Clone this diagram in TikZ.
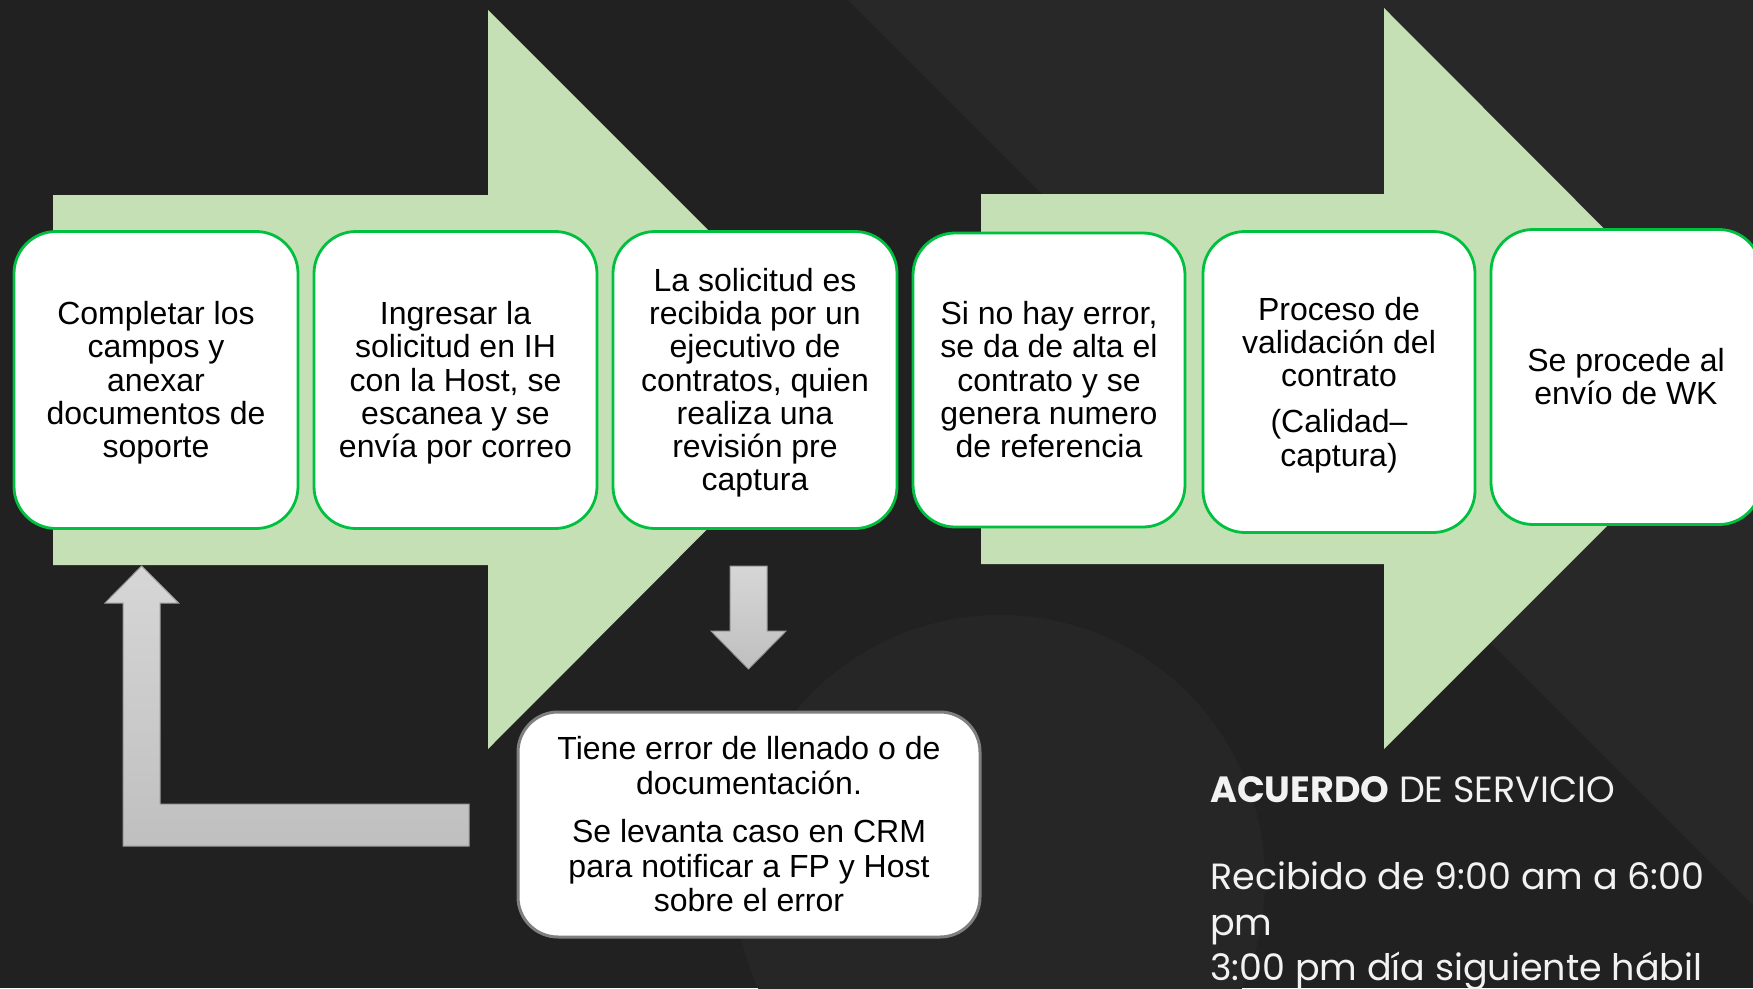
\documentclass[tikz,border=0pt]{standalone}
\usepackage{fontspec}
\setmainfont{Liberation Sans}
\newfontfamily\gothicfont{Poppins}
\usetikzlibrary{positioning}
\definecolor{bgdark}{HTML}{212121}
\definecolor{bglight}{HTML}{282828}
\definecolor{bgcircle}{HTML}{262626}
\definecolor{arrowgreen}{HTML}{C5E0B4}
\definecolor{boxgreen}{HTML}{00C040}
\definecolor{errgray}{HTML}{7F7F7F}
\definecolor{arrowedge}{HTML}{9A9A9A}
\definecolor{infowhite}{HTML}{F2F2F2}
% line box struts, so the text is centred the way the slide centres it
\newcommand{\boxlines}[1]{\rule{0pt}{29pt}#1\rule[-6.8pt]{0pt}{0pt}}

\begin{document}
\begin{tikzpicture}[x=1pt, y=-1pt,
    boxtext/.style={fill=white, align=center, inner sep=0pt},
    stepbox/.style={boxtext, draw=boxgreen, line width=2.8pt, rounded corners=42pt,
      font=\fontsize{32}{33.2}\selectfont},
    errbox/.style={boxtext, draw=errgray, line width=3pt, rounded corners=40pt,
      font=\fontsize{32}{34.5}\selectfont},
    bigarrow/.style={fill=arrowgreen},
    grayarrow/.style={draw=arrowedge, line width=1pt, top color=gray!32, bottom color=gray!50},
    infotext/.style={text=infowhite, anchor=base west, inner sep=0pt,
      font=\gothicfont\fontsize{36.5}{45}\selectfont}]

      % Background
      \useasboundingbox (0,0) rectangle (1753,988);
      \fill[bgdark] (0,0) rectangle (1753,988);
      \fill[bglight] (848,0) -- (1753,0) -- (1753,905) -- cycle;
      \fill[bgcircle] (1000,880) circle (265pt);

      % Big arrows behind the steps
      \fill[bigarrow] (53,195) -- (488,195) -- (488,10) -- (857,379) -- (488,749) -- (488,565) -- (53,565) -- cycle;
      \fill[bigarrow] (981,194) -- (1384,194) -- (1384,8) -- (1754,379) -- (1384,749) -- (1384,564) -- (981,564) -- cycle;

      % Steps of the first arrow
      \node[stepbox, minimum width=284pt, minimum height=297pt] (step1) at (156,380)
        {\boxlines{Completar los\\campos y\\anexar\\documentos de\\soporte}};
      \node[stepbox, minimum width=283pt, minimum height=297pt] (step2) at (455.5,380)
        {\boxlines{Ingresar la\\solicitud en IH\\con la Host, se\\escanea y se\\envía por correo}};
      \node[stepbox, minimum width=284pt, minimum height=297pt] (step3) at (755,380)
        {\boxlines{La solicitud es\\recibida por un\\ejecutivo de\\contratos, quien\\realiza una\\revisión pre\\captura}};

      % Steps of the second arrow
      \node[stepbox, minimum width=272pt, minimum height=294pt] (step4) at (1049,380)
        {\boxlines{Si no hay error,\\se da de alta el\\contrato y se\\genera numero\\de referencia}};
      \node[stepbox, minimum width=272pt, minimum height=301pt] (step5) at (1339,382)
        {\boxlines{Proceso de\\validación del\\contrato\\[13pt](Calidad–\\captura)}};
      \node[stepbox, minimum width=270pt, minimum height=295pt] (step6) at (1626,377)
        {\boxlines{Se procede al\\envío de WK}};

      % Error path
      \node[errbox, minimum width=462pt, minimum height=225pt] (error) at (749,824.5)
        {\boxlines{Tiene error de llenado o de\\documentación.\\[14pt]Se levanta caso en CRM\\para notificar a FP y Host\\sobre el error}};

      % Down arrow to the error box
      \path[grayarrow] (730,566) -- (767,566) -- (767,631) -- (786,631) -- (748.5,669) -- (711,631) -- (730,631) -- cycle;

      % Return arrow back to step 1
      \path[grayarrow] (123,846) -- (123,603) -- (105,603) -- (141.6,566) -- (178.6,603) -- (160,603) -- (160,804) -- (469,804) -- (469,846) -- cycle;

      % Service agreement
      \node[infotext] (acuerdo) at (1210,802) {\textbf{ACUERDO} DE SERVICIO};
      \node[infotext] (horario1) at (1210,889) {Recibido de 9:00 am a 6:00};
      \node[infotext] (horario2) at (1210,935) {pm};
      \node[infotext] (horario3) at (1210,980) {3:00 pm día siguiente hábil};
\end{tikzpicture}
\end{document}
